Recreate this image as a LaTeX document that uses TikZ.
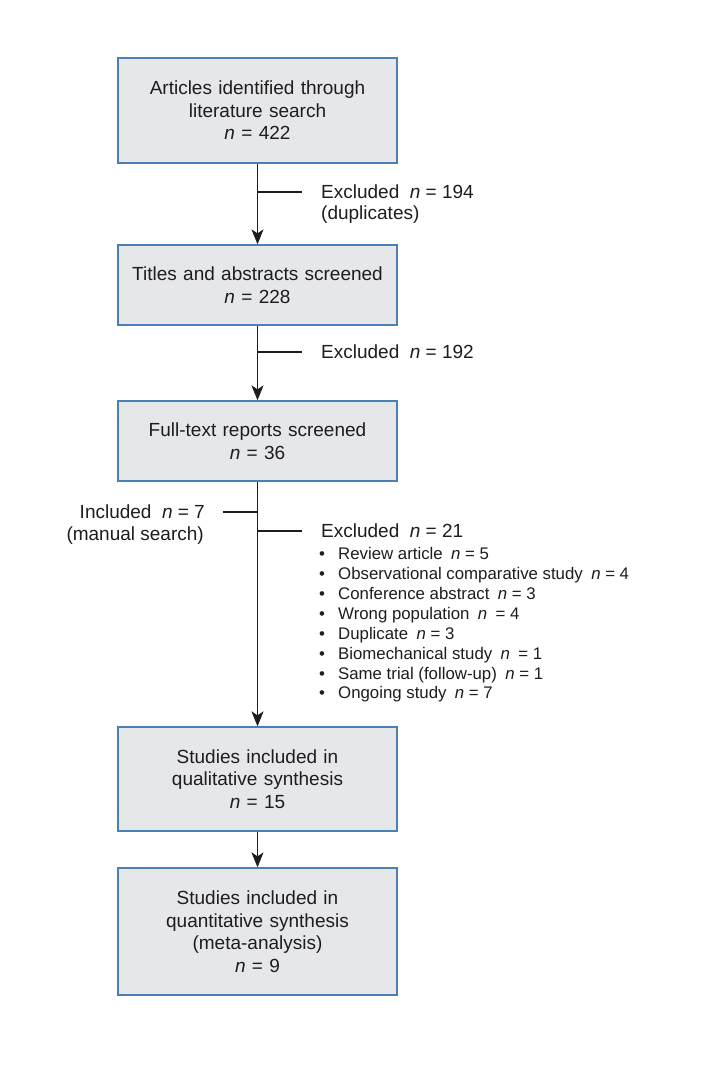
\documentclass[tikz,border=0pt]{standalone}
\usepackage{fontspec}
\setmainfont{Liberation Sans}
\usetikzlibrary{arrows.meta}
\definecolor{boxfill}{HTML}{E6E7E9}
\definecolor{boxline}{HTML}{4A80B8}
\definecolor{ink}{HTML}{1E1C1D}
\begin{document}
\begin{tikzpicture}[x=1pt,y=-1pt,
  box/.style={draw=boxline, fill=boxfill, line width=1.3pt, minimum width=279pt,
    text width=270pt, align=center, font=\fontsize{19}{22.5}\selectfont, text=ink, inner sep=0pt},
  lbl/.style={font=\fontsize{19}{22}\selectfont, text=ink, inner sep=0pt},
  blt/.style={font=\fontsize{16.8}{20}\selectfont, text=ink, inner sep=0pt, anchor=base west},
  conn/.style={draw=ink, line width=1.2pt},
  arr/.style={conn, -{Stealth[length=15pt,width=12pt,inset=4pt]}}]
\useasboundingbox (0,0) rectangle (712,1083);

\node[box, minimum height=105pt] (b1) at (257.5,110.5) {Articles identified through\\literature search\\\textit{n} = 422};
\node[box, minimum height=80pt] (b2) at (257.5,285) {Titles and abstracts screened\\\textit{n} = 228};
\node[box, minimum height=80pt] (b3) at (257.5,441) {Full-text reports screened\\\textit{n} = 36};
\node[box, minimum height=104pt] (b4) at (257.5,779) {Studies included in\\qualitative synthesis\\\textit{n} = 15};
\node[box, minimum height=127pt] (b5) at (257.5,931.5) {Studies included in\\quantitative synthesis\\(meta-analysis)\\\textit{n} = 9};

\draw[arr] (b1) -- (b2);
\draw[arr] (b2) -- (b3);
\draw[arr] (b3) -- (b4);
\draw[arr] (b4) -- (b5);

% branch 1
\coordinate (j1) at (257.5,192);
\coordinate (e1) at (302,192);
\draw[conn] (j1) -- (e1);
\node[lbl, anchor=base west] (t1a) at (321,198.5) {Excluded\hspace{0.55em}\textit{n} = 194};
\node[lbl, anchor=base west] (t1b) at (321,220) {(duplicates)};

% branch 2
\coordinate (j2) at (257.5,352);
\coordinate (e2) at (302,352);
\draw[conn] (j2) -- (e2);
\node[lbl, anchor=base west] (t2) at (321,358.5) {Excluded\hspace{0.55em}\textit{n} = 192};

% included
\coordinate (j3) at (257.5,512);
\coordinate (i3) at (223,512);
\draw[conn] (i3) -- (j3);
\node[lbl, anchor=base east] (t3a) at (205,518.5) {Included\hspace{0.55em}\textit{n} = 7};
\node[lbl, anchor=base east] (t3b) at (204,540) {(manual search)};

% excluded 21
\coordinate (j4) at (257.5,531);
\coordinate (e4) at (302,531);
\draw[conn] (j4) -- (e4);
\node[lbl, anchor=base west] (t4) at (321,537.5) {Excluded\hspace{0.55em}\textit{n} = 21};

\node[blt] (l1) at (319,559) {\makebox[19pt][l]{\textbullet}Review article\hspace{0.5em}\textit{n} = 5};
\node[blt] (l2) at (319,579) {\makebox[19pt][l]{\textbullet}Observational comparative study\hspace{0.5em}\textit{n} = 4};
\node[blt] (l3) at (319,599) {\makebox[19pt][l]{\textbullet}Conference abstract\hspace{0.5em}\textit{n} = 3};
\node[blt] (l4) at (319,619) {\makebox[19pt][l]{\textbullet}Wrong population\hspace{0.5em}\textit{n}\hspace{0.5em}= 4};
\node[blt] (l5) at (319,639) {\makebox[19pt][l]{\textbullet}Duplicate\hspace{0.5em}\textit{n} = 3};
\node[blt] (l6) at (319,659) {\makebox[19pt][l]{\textbullet}Biomechanical study\hspace{0.5em}\textit{n}\hspace{0.5em}= 1};
\node[blt] (l7) at (319,679) {\makebox[19pt][l]{\textbullet}Same trial (follow-up)\hspace{0.5em}\textit{n} = 1};
\node[blt] (l8) at (319,698.5) {\makebox[19pt][l]{\textbullet}Ongoing study\hspace{0.5em}\textit{n} = 7};
\end{tikzpicture}
\end{document}
